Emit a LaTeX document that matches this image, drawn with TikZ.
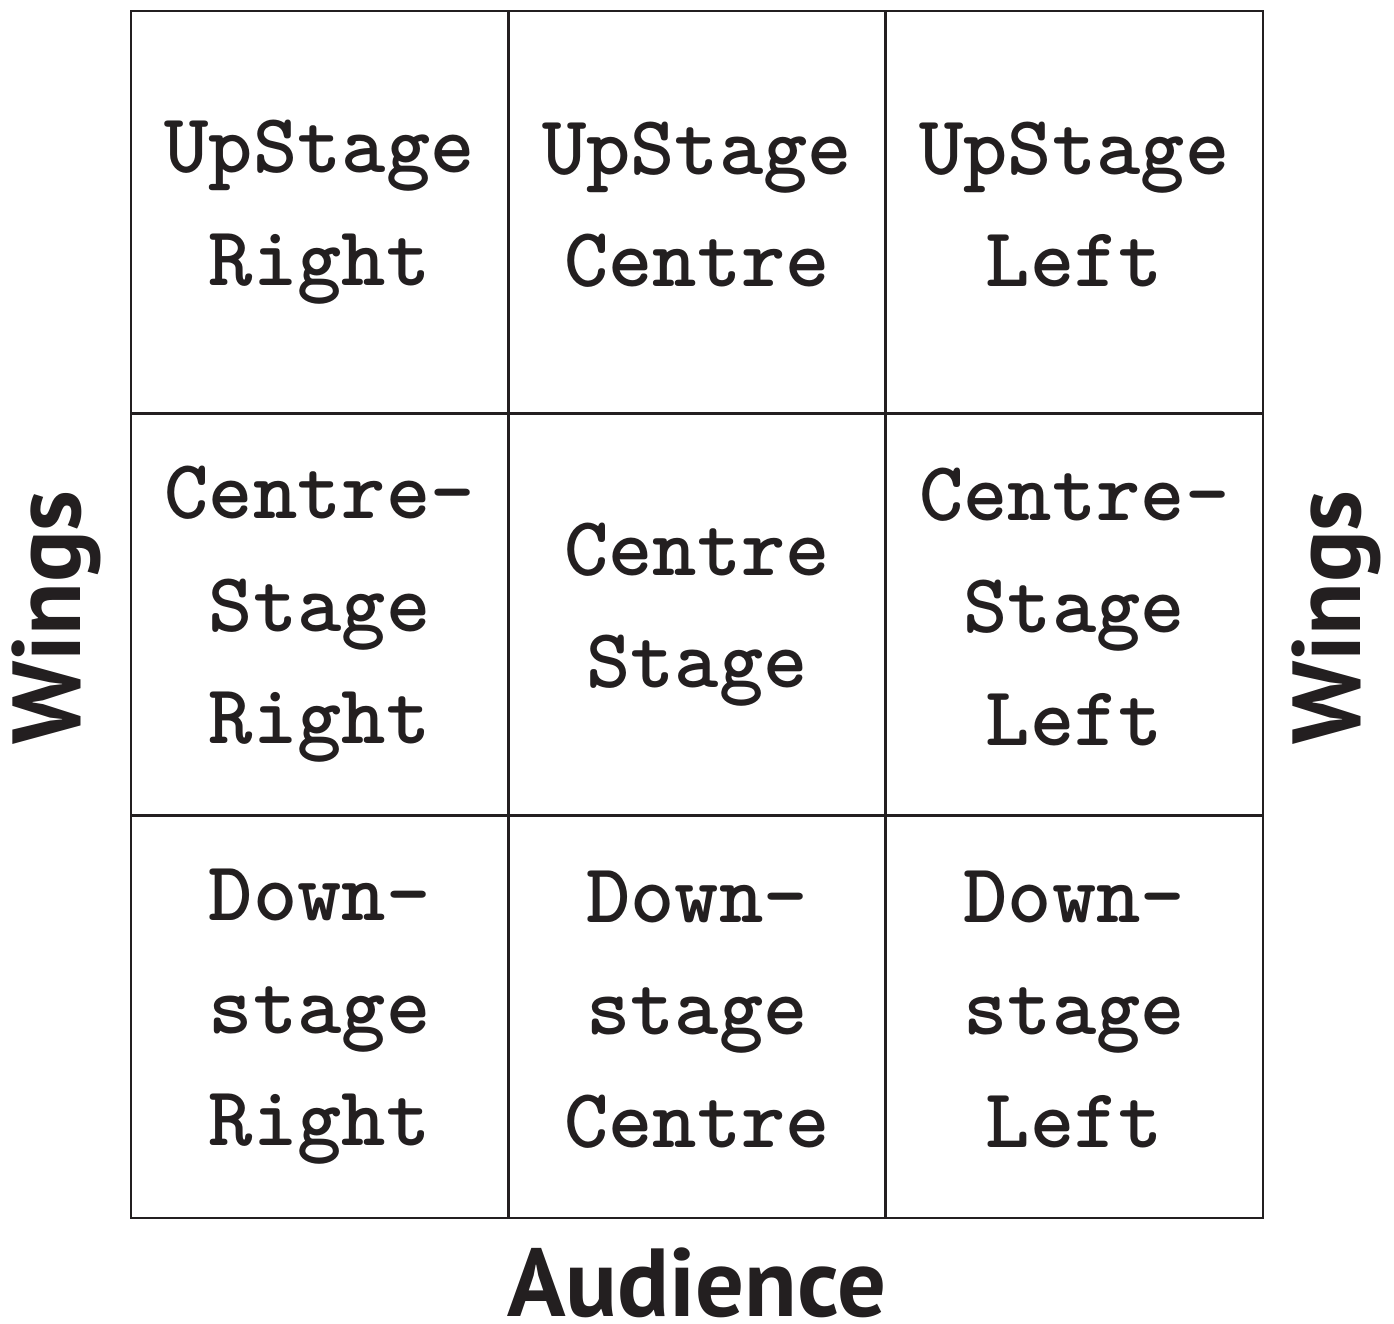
\documentclass[tikz,border=0pt]{standalone}
\usepackage{fontspec}
\usepackage{xcolor}
\usepackage{tikz}
\usetikzlibrary{positioning}

\newfontfamily\stagefont{lmmonolt10-bold.otf}
\newfontfamily\labelfont{PT Sans}
\definecolor{inkgrey}{RGB}{35,31,32}
\newcommand{\cellstrut}{\rule[-9pt]{0pt}{64pt}}

\begin{document}
\begin{tikzpicture}[
    cell/.style={rectangle, draw=inkgrey, line width=1.5pt, minimum width=7.547cm, minimum height=8.047cm, inner sep=0pt, outer sep=0pt, align=center, text=inkgrey, font=\stagefont\fontsize{48}{64}\selectfont, execute at begin node=\cellstrut, execute at end node=\cellstrut},
    side/.style={inner sep=0pt, text=inkgrey, font=\labelfont\bfseries\fontsize{55}{55}\selectfont}
]
\useasboundingbox (0,0) rectangle (27.88,-26.46);

% Upstage row
\node[cell, anchor=north west] (usr) at (2.62,-0.22) {UpStage\\Right};
\node[cell, right=0pt of usr] (usc) {UpStage\\Centre};
\node[cell, right=0pt of usc] (usl) {UpStage\\Left};

% Centre row
\node[cell, below=0pt of usr] (csr) {Centre-\\Stage\\Right};
\node[cell, right=0pt of csr] (cs) {Centre\\Stage};
\node[cell, right=0pt of cs] (csl) {Centre-\\Stage\\Left};

% Downstage row
\node[cell, below=0pt of csr] (dsr) {Down-\\stage\\Right};
\node[cell, right=0pt of dsr] (dsc) {Down-\\stage\\Centre};
\node[cell, right=0pt of dsc] (dsl) {Down-\\stage\\Left};

% Sides
\node[side, rotate=90, anchor=base] (wingsleft) at (1.6,-12.35) {Wings};
\node[side, rotate=90, anchor=base] (wingsright) at (27.2,-12.35) {Wings};
\node[side, anchor=base] (audience) at (13.94,-26.32) {Audience};

\end{tikzpicture}
\end{document}
